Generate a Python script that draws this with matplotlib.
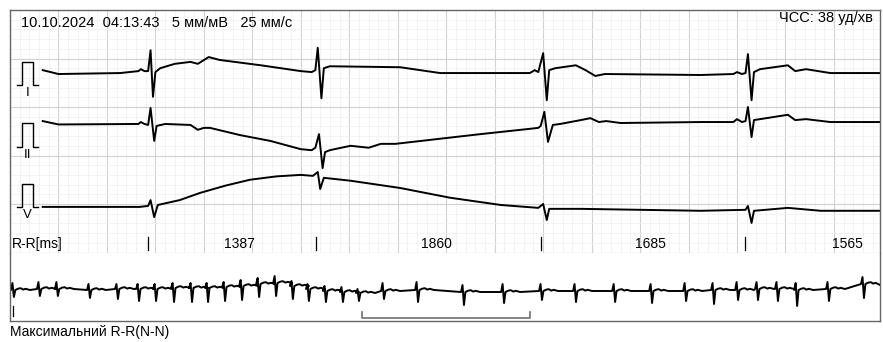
import matplotlib.pyplot as plt
from matplotlib.ticker import MultipleLocator

plt.rcParams['font.family'] = ['Liberation Sans', 'DejaVu Sans']

# header
record_date = "10.10.2024"
record_time = "04:13:43"
gain_label = "5 мм/мВ"
speed_label = "25 мм/с"
heart_rate = 38

# R-R intervals shown in the window, ms
rr_ms = [1387, 1860, 1685, 1565]
first_r = 1.15  # s, first R peak in the window

# lead traces, (time s, amplitude mV)
lead_i = [(0.27, 0.06), (0.40, -0.02), (0.91, 0.00), (1.06, 0.04), (1.08, 0.08), (1.11, 0.04),
          (1.14, 0.04), (1.16, 0.47), (1.18, -0.49), (1.20, 0.02), (1.24, 0.10), (1.36, 0.19),
          (1.49, 0.23), (1.55, 0.19), (1.64, 0.33), (1.73, 0.27), (2.07, 0.16), (2.40, 0.04),
          (2.49, 0.02), (2.52, 0.06), (2.54, 0.52), (2.57, -0.52), (2.59, 0.10), (2.64, 0.14),
          (3.22, 0.12), (3.55, 0.00), (4.29, 0.00), (4.33, 0.06), (4.36, 0.02), (4.40, 0.41),
          (4.43, -0.56), (4.45, 0.06), (4.50, 0.10), (4.67, 0.16), (4.75, 0.06), (4.83, -0.06),
          (4.91, -0.02), (5.70, -0.04), (5.97, -0.02), (6.00, 0.02), (6.04, -0.02), (6.07, 0.00),
          (6.09, 0.39), (6.12, -0.56), (6.14, 0.02), (6.19, 0.08), (6.42, 0.16), (6.48, 0.04),
          (6.57, 0.08), (6.77, 0.00), (7.18, 0.00)]
lead_ii = [(0.27, 0.06), (0.40, -0.01), (1.06, 0.00), (1.08, 0.04), (1.11, 0.00), (1.14, -0.02),
           (1.16, 0.33), (1.19, -0.35), (1.21, -0.04), (1.28, 0.00), (1.49, -0.02), (1.55, -0.12),
           (1.60, -0.08), (1.65, -0.08), (1.90, -0.23), (2.15, -0.35), (2.40, -0.52), (2.49, -0.54),
           (2.52, -0.49), (2.55, -0.21), (2.58, -0.91), (2.60, -0.58), (2.64, -0.54), (2.81, -0.45),
           (2.96, -0.49), (3.06, -0.41), (3.18, -0.41), (3.88, -0.21), (4.29, -0.10), (4.36, -0.08),
           (4.38, -0.04), (4.41, 0.25), (4.44, -0.37), (4.48, -0.02), (4.54, 0.00), (4.71, 0.08),
           (4.79, 0.12), (4.86, 0.04), (4.92, 0.06), (5.04, 0.02), (5.70, 0.04), (5.97, 0.04),
           (6.00, 0.10), (6.04, 0.04), (6.07, 0.06), (6.09, 0.35), (6.12, -0.27), (6.14, 0.08),
           (6.42, 0.19), (6.48, 0.08), (6.57, 0.10), (6.77, 0.04), (7.18, 0.04)]
lead_v = [(0.27, 0.00), (1.07, 0.00), (1.14, 0.02), (1.16, 0.14), (1.19, -0.21), (1.22, 0.04),
          (1.40, 0.14), (1.57, 0.29), (1.78, 0.44), (1.98, 0.56), (2.20, 0.63), (2.40, 0.66),
          (2.50, 0.64), (2.54, 0.72), (2.56, 0.37), (2.59, 0.60), (2.81, 0.54), (3.22, 0.39),
          (3.63, 0.19), (4.05, 0.04), (4.36, -0.02), (4.40, 0.06), (4.43, -0.27), (4.45, -0.04),
          (4.71, -0.04), (5.70, -0.08), (6.07, -0.06), (6.09, 0.02), (6.12, -0.33), (6.14, -0.08),
          (6.42, -0.02), (6.69, -0.08), (7.18, -0.08)]
lead_names = ["I", "II", "V"]
lead_offsets = [3.70, 2.65, 0.94]      # baseline of each lead on the grid, mV
pulse_bases = [3.45, 2.18, 0.94]       # baseline of calibration pulse
label_levels = [3.29, 2.01, 0.77]

# calibration pulse
pulse_t = [0.06, 0.10, 0.10, 0.19, 0.19, 0.23]
pulse_v = [0.0, 0.0, 0.48, 0.48, 0.0, 0.0]

# rhythm strip: beat times (s), baseline, R up, S down (mV)
strip_beats = [0.12, 1.19, 1.93, 3.25, 4.40, 5.27, 5.97, 6.71, 7.45, 8.11, 8.81, 9.51,
               10.21, 10.91, 11.60, 12.26, 12.96, 13.66, 14.32, 15.35, 16.75, 18.64, 20.29,
               21.85, 23.25, 24.86, 26.38, 27.78, 28.93, 29.92, 30.74, 31.56, 32.35, 33.66, 35.10]
strip_base = [0.0, 0.05, 0.05, 0.0, 0.05, 0.05, 0.05, 0.10, 0.10, 0.10, 0.15, 0.20,
              0.30, 0.35, 0.20, 0.05, -0.05, -0.10, -0.15, -0.05, 0.0, -0.10, -0.10,
              -0.05, -0.05, -0.05, -0.05, -0.05, 0.0, 0.0, 0.05, 0.05, 0.0, 0.05, 0.30]
strip_up = [0.35, 0.35, 0.35, 0.30, 0.25, 0.25, 0.25, 0.25, 0.25, 0.25, 0.25, 0.30,
            0.30, 0.35, 0.25, 0.25, 0.25, 0.25, 0.20, 0.40, 0.40, 0.35, 0.40,
            0.35, 0.35, 0.35, 0.35, 0.40, 0.35, 0.40, 0.35, 0.35, 0.35, 0.35, 0.35]
strip_down = [0.35, 0.35, 0.35, 0.40, 0.50, 0.60, 0.60, 0.70, 0.70, 0.70, 0.70, 0.70,
              0.65, 0.65, 0.65, 0.60, 0.55, 0.50, 0.40, 0.40, 0.60, 0.65, 0.55,
              0.45, 0.55, 0.55, 0.60, 0.50, 0.70, 0.50, 0.55, 0.60, 0.80, 0.60, 0.70]
strip_start = 0.0
strip_end = (35.8, 0.25)
bracket_span = (14.5, 21.4)

window_len = 7.18
strip_len = 35.8

fig = plt.figure(figsize=(8.83, 3.42), dpi=100)
W, H = 883, 342
ax = fig.add_axes([10 / W, 1 - 252.5 / H, 870 / W, 242.5 / H])
axs = fig.add_axes([10 / W, 1 - 321 / H, 870 / W, 68.5 / H])

# ---- top panel: ECG paper
ax.set_xlim(0, window_len)
ax.set_ylim(0, 5)
ax.xaxis.set_major_locator(MultipleLocator(0.4))
ax.xaxis.set_minor_locator(MultipleLocator(0.08))
ax.yaxis.set_major_locator(MultipleLocator(1.0))
ax.yaxis.set_minor_locator(MultipleLocator(0.2))
ax.grid(which='major', color='#d2d2d2', lw=0.8)
ax.grid(which='minor', color='#efefef', lw=0.5)
ax.set_axisbelow(True)
ax.tick_params(which='both', length=0, labelbottom=False, labelleft=False)
for s in ['left', 'top', 'right']:
    ax.spines[s].set_color('#666666')
    ax.spines[s].set_linewidth(1.0)
ax.spines['bottom'].set_color('#c8c8c8')
ax.spines['bottom'].set_linewidth(0.8)

for trace, off, pb, lvl, name in zip([lead_i, lead_ii, lead_v], lead_offsets,
                                     pulse_bases, label_levels, lead_names):
    t = [p[0] for p in trace]
    v = [p[1] + off for p in trace]
    ax.plot(t, v, color='black', lw=1.4, solid_joinstyle='round')
    ax.plot(pulse_t, [pv + pb for pv in pulse_v], color='black', lw=1.0)
    ax.text(0.145, lvl, name, ha='center', va='center', fontsize=9.5)

ax.text(0.09, 4.73, f"{record_date}  {record_time}   {gain_label}   {speed_label}",
        ha='left', va='center', fontsize=10.5)
ax.text(7.12, 4.84, f"ЧСС: {heart_rate} уд/хв", ha='right', va='center', fontsize=10.5)

# R-R row
r_times = [first_r]
for rr in rr_ms[:-1]:
    r_times.append(r_times[-1] + rr / 1000)
ax.text(0.017, 0.175, "R-R[ms]", ha='left', va='center', fontsize=10)
for rt, rr in zip(r_times, rr_ms):
    ax.plot([rt - 0.015, rt - 0.015], [0.05, 0.32], color='black', lw=0.9)
    ax.text(rt + rr / 2000 + 0.05, 0.175, str(rr), ha='center', va='center', fontsize=10)

# ---- rhythm strip
axs.set_xlim(0, strip_len)
axs.set_ylim(-1.55, 1.875)
axs.set_xticks([])
axs.set_yticks([])
for s in ['left', 'bottom', 'right']:
    axs.spines[s].set_color('#666666')
    axs.spines[s].set_linewidth(1.0)
axs.spines['top'].set_visible(False)

st, sv = [0.0], [strip_start]
for bt, b, up, dn in zip(strip_beats, strip_base, strip_up, strip_down):
    shape = [(-0.08, b), (-0.02, b + up), (0.04, b - dn), (0.10, b), (0.22, b + 0.07),
             (0.32, b + 0.09), (0.42, b + 0.02), (0.52, b + 0.06), (0.70, b)]
    for dt, val in shape:
        if 0 <= bt + dt <= strip_len:
            st.append(bt + dt)
            sv.append(val)
st.append(strip_end[0])
sv.append(strip_end[1])
axs.plot(st, sv, color='black', lw=1.4, solid_joinstyle='round')

axs.plot([0.12, 0.12], [-1.3, -0.78], color='black', lw=0.9)
axs.plot([bracket_span[0], bracket_span[0], bracket_span[1], bracket_span[1]],
         [-1.1, -1.4, -1.4, -1.1], color='#707070', lw=1.2)

fig.text(10 / W, 1 - 332 / H, "Максимальний R-R(N-N)", ha='left', va='center', fontsize=10)

fig.savefig("out.png", dpi=100)
